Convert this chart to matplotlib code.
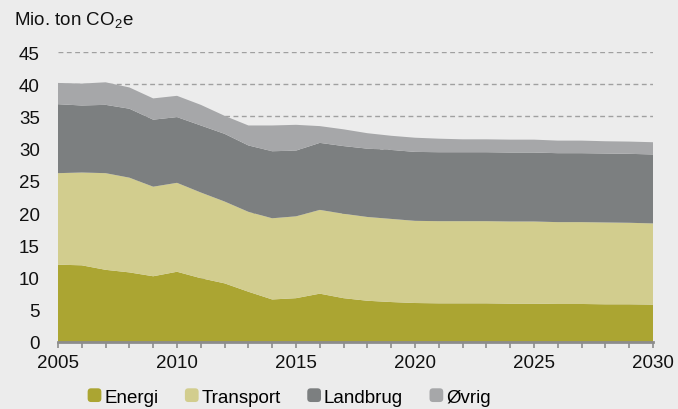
import matplotlib

matplotlib.use("Agg")
import matplotlib.pyplot as plt
from matplotlib.legend_handler import HandlerPatch
from matplotlib.patches import FancyBboxPatch, Patch

plt.rcParams["font.family"] = ["Liberation Sans", "DejaVu Sans"]
plt.rcParams["mathtext.fontset"] = "custom"
plt.rcParams["mathtext.rm"] = "Liberation Sans"
plt.rcParams["mathtext.it"] = "Liberation Sans:italic"

# Emissions by sector, mio. ton CO2e
years = list(range(2005, 2031))
energi = [12.0, 11.9, 11.2, 10.8, 10.2, 10.9, 9.9, 9.1, 7.8, 6.6, 6.8, 7.5, 6.8,
          6.4, 6.2, 6.05, 6.0, 6.0, 6.0, 5.95, 5.95, 5.9, 5.9, 5.85, 5.85, 5.8]
transport = [14.2, 14.4, 15.0, 14.7, 13.9, 13.8, 13.3, 12.7, 12.4, 12.6, 12.7, 13.0, 13.1,
             13.0, 12.9, 12.75, 12.75, 12.75, 12.75, 12.75, 12.75, 12.7, 12.7, 12.7, 12.65, 12.6]
landbrug = [10.7, 10.4, 10.6, 10.7, 10.4, 10.2, 10.4, 10.5, 10.3, 10.4, 10.2, 10.4, 10.5,
            10.6, 10.7, 10.7, 10.7, 10.7, 10.7, 10.7, 10.7, 10.7, 10.7, 10.7, 10.7, 10.7]
oevrig = [3.3, 3.4, 3.5, 3.3, 3.3, 3.3, 3.2, 2.8, 3.1, 4.0, 4.0, 2.6, 2.6,
          2.4, 2.2, 2.2, 2.1, 2.0, 2.0, 2.0, 2.0, 1.95, 1.95, 1.9, 1.9, 1.9]

labels = ["Energi", "Transport", "Landbrug", "Øvrig"]
colors = ["#aba532", "#d2cd8e", "#7c7f80", "#a6a7a9"]
bg = "#ececec"


def _rounded_square(legend, orig_handle, xdescent, ydescent, width, height, fontsize):
    side = min(width, height)
    return FancyBboxPatch((-xdescent + (width - side), -ydescent), side, side,
                          boxstyle="round,pad=0,rounding_size=2.5")


fig = plt.figure(figsize=(6.78, 4.10), dpi=100, facecolor=bg)
ax = fig.add_axes([58 / 678, 1 - 343 / 410, 595 / 678, 290 / 410], facecolor=bg)

ax.set_axisbelow(True)
ax.yaxis.grid(True, linestyle=(0, (3.5, 2.5)), color="#a0a0a0", linewidth=1.0)
ax.stackplot(years, energi, transport, landbrug, oevrig,
             colors=colors, labels=labels, linewidth=0, zorder=2)

ax.set_xlim(2005, 2030)
ax.set_ylim(0, 45)
ax.set_yticks(range(0, 50, 5))
ax.set_xticks(range(2005, 2031, 5))
ax.set_xticks(years, minor=True)
ax.tick_params(axis="y", length=0, pad=13, labelsize=13.5, colors="#111111")
ax.tick_params(axis="x", which="both", direction="out", length=4, width=1.2,
               color="#8c8c8c", labelsize=13.5, labelcolor="#111111", pad=5)

for side in ["top", "right", "left"]:
    ax.spines[side].set_visible(False)
ax.spines["bottom"].set_color("#8c8c8c")
ax.spines["bottom"].set_linewidth(2)
ax.spines["bottom"].set_zorder(3)

fig.text(14 / 678, 1 - 20 / 410, "Mio. ton CO$_2$e", fontsize=13.5, va="center", ha="left",
         color="#111111")

handles = [Patch(facecolor=c, edgecolor="none", label=l) for c, l in zip(colors, labels)]
fig.legend(handles=handles, loc="center", ncol=4,
           bbox_to_anchor=(289 / 678, 1 - 398 / 410), frameon=False,
           fontsize=13.5, handlelength=0.75, handleheight=0.75, handletextpad=0.15,
           columnspacing=1.4, borderaxespad=0,
           handler_map={Patch: HandlerPatch(patch_func=_rounded_square)})

fig.savefig("out.png", dpi=100, facecolor=bg)
